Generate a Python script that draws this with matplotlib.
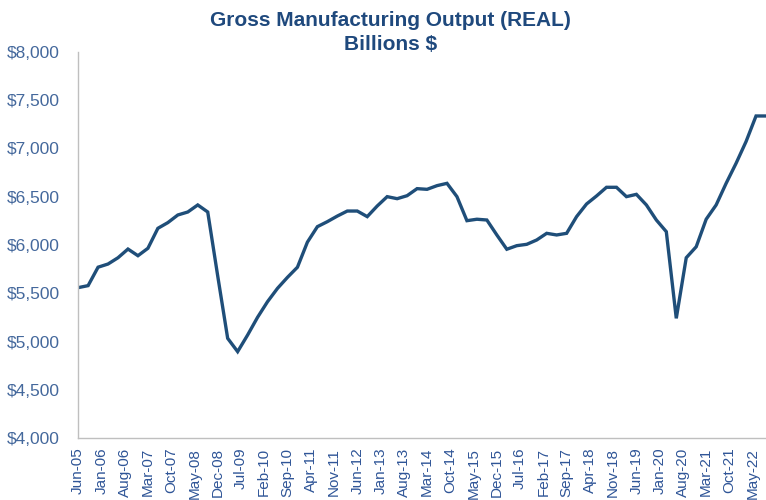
import matplotlib.pyplot as plt
from matplotlib.ticker import FuncFormatter

plt.rcParams['font.family'] = ['Liberation Sans', 'DejaVu Sans']

# quarterly values, Jun-05 .. Sep-22 (billions $)
values = [5558, 5579, 5770,
          5803, 5868, 5958, 5889,
          5966, 6173, 6232, 6311,
          6342, 6415, 6342, 5680,
          5033, 4895, 5067, 5251,
          5413, 5551, 5665, 5770,
          6030, 6190, 6242, 6300,
          6352, 6352, 6294, 6404,
          6501, 6480, 6511, 6584,
          6577, 6615, 6639, 6501,
          6252, 6267, 6259, 6104,
          5956, 5993, 6007, 6052,
          6121, 6104, 6121, 6294,
          6425, 6508, 6598, 6598,
          6501, 6525, 6415, 6259,
          6138, 5240, 5868, 5982,
          6267, 6415, 6639, 6847,
          7072, 7337, 7337]

month_names = ['Jan', 'Feb', 'Mar', 'Apr', 'May', 'Jun',
               'Jul', 'Aug', 'Sep', 'Oct', 'Nov', 'Dec']

# months since Jun-05
months = [3 * i for i in range(len(values))]

def month_label(m):
    total = 2005 * 12 + 5 + m
    y, mo = divmod(total, 12)
    return '%s-%02d' % (month_names[mo], y % 100)

tick_pos = list(range(0, months[-1] + 1, 7))
tick_labels = [month_label(m) for m in tick_pos]

fig = plt.figure(figsize=(7.66, 5), dpi=100)
ax = fig.add_axes([0.102, 0.124, 0.898, 0.772])

ax.plot(months, values, color='#1F4E79', linewidth=2.4, solid_joinstyle='miter')

ax.set_xlim(0, months[-1])
ax.set_ylim(4000, 8000)
ax.set_yticks(range(4000, 8001, 500))
ax.yaxis.set_major_formatter(FuncFormatter(lambda v, p: '${:,.0f}'.format(v)))
ax.set_xticks(tick_pos)
ax.set_xticklabels(tick_labels, rotation=90)

ax.tick_params(axis='y', length=0, pad=13, labelsize=12.5, labelcolor='#44689C')
ax.tick_params(axis='x', length=0, pad=7, labelsize=11, labelcolor='#2F5597')

for s in ['top', 'right']:
    ax.spines[s].set_visible(False)
for s in ['left', 'bottom']:
    ax.spines[s].set_color('#BFBFBF')
    ax.spines[s].set_linewidth(1)

fig.text(0.51, 0.978, 'Gross Manufacturing Output (REAL)\nBillions $',
         ha='center', va='top', fontsize=15, fontweight='bold',
         color='#1F497D', linespacing=1.3)

fig.savefig('out.png', dpi=100)
